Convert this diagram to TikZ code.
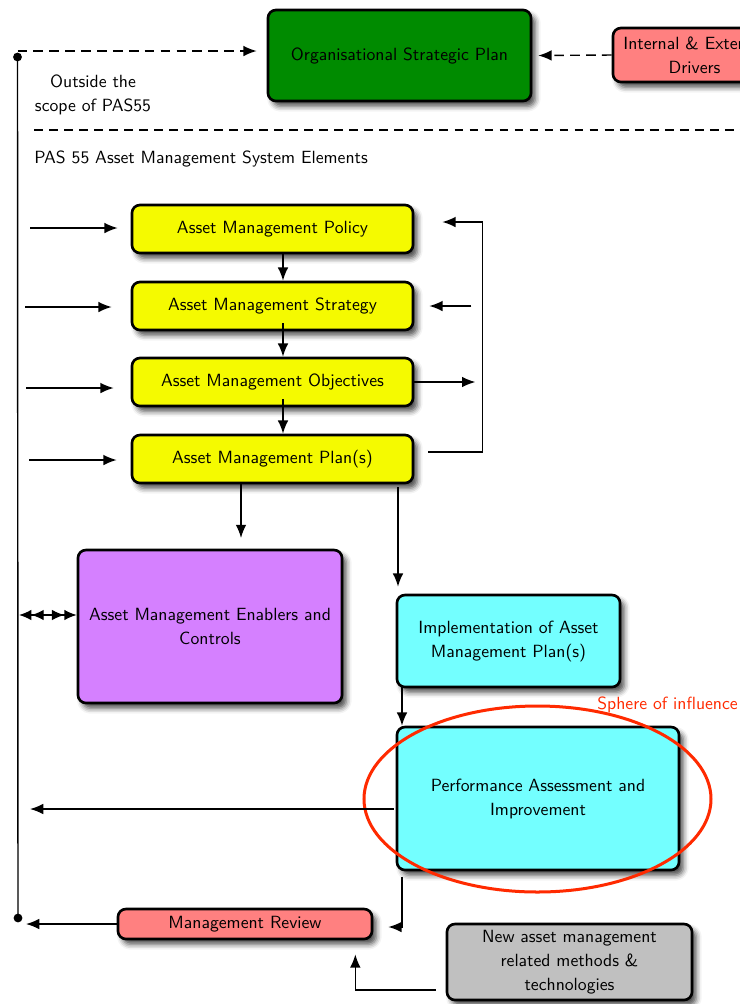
\documentclass[tikz,border=0pt]{standalone}
\usetikzlibrary{arrows.meta,calc,shadows.blur,shapes.geometric}
\definecolor{ospgreen}{RGB}{0,139,0}
\definecolor{amyellow}{RGB}{245,250,0}
\definecolor{enpurple}{RGB}{213,128,255}
\definecolor{impcyan}{RGB}{115,255,255}
\definecolor{revred}{RGB}{255,128,128}
\definecolor{newgrey}{RGB}{192,192,192}
\definecolor{sphred}{RGB}{255,42,0}
\begin{document}
\begin{tikzpicture}[x=0.566pt,y=-0.566pt,
  font=\sffamily\fontsize{10}{13.6}\selectfont,
  wh/.style 2 args={minimum width=#1*0.566pt, minimum height=#2*0.566pt},
  box/.style={draw=black, line width=1.5pt, rounded corners=4.5pt, align=center, inner sep=0pt,
    blur shadow={shadow xshift=2.5pt, shadow yshift=-3pt, shadow blur radius=3pt, shadow opacity=70}},
  tip/.style={-{Latex[length=7.5pt,width=6pt]}},
  conn/.style={line width=0.8pt, tip},
  link/.style={line width=0.8pt},
  dashconn/.style={line width=0.8pt, dash pattern=on 5.5pt off 3.5pt, tip},
]
\useasboundingbox (0,0) rectangle (740,1004);

% ---- boxes ----
\node[box, fill=ospgreen, wh={263}{91}] (osp) at (399.5,55.5) {Organisational Strategic Plan};
\node[box, fill=revred, wh={163}{54}] (drv) at (694.5,55) {Internal \& External\\Drivers};

\node[box, fill=amyellow, wh={281}{48}] (pol) at (272.5,229) {Asset Management Policy};
\node[box, fill=amyellow, wh={281}{48}] (str) at (272.5,306) {Asset Management Strategy};
\node[box, fill=amyellow, wh={281}{48}] (obj) at (272.5,382) {Asset Management Objectives};
\node[box, fill=amyellow, wh={281}{48}] (pla) at (272.5,459) {Asset Management Plan(s)};

\node[box, fill=enpurple, wh={264}{153}] (pur) at (210,626.5) {Asset Management Enablers and\\Controls};
\node[box, fill=impcyan, wh={223}{92}] (imp) at (508.5,641) {Implementation of Asset\\Management Plan(s)};
\node[box, fill=impcyan, wh={282}{143}] (per) at (538,798.5) {Performance Assessment and\\Improvement};
\node[box, fill=revred, wh={254}{30}] (mr) at (245,924) {Management Review};
\node[box, fill=newgrey, wh={245}{76}] (gry) at (569.5,962) {New asset management\\related methods \&\\technologies};

% ---- labels ----
\node[align=center, inner sep=0pt] (outside) at (93,95) {Outside the\\scope of PAS55};
\node[anchor=west, inner sep=0pt] (elements) at (34,159) {PAS 55 Asset Management System Elements};
\node[anchor=west, inner sep=0pt, text=sphred] (sphlabel) at (597,705) {Sphere of influence};

% ---- sphere of influence ----
\node[ellipse, draw=sphred, line width=1.7pt, minimum width=347*0.566pt, minimum height=186*0.566pt, inner sep=0pt] (sph) at (537.5,799) {};

% ---- scope separator ----
\coordinate (sepL) at (34,130);
\coordinate (sepR) at (740,130);
\draw[line width=0.8pt, dash pattern=on 5pt off 3.5pt] (sepL) -- (sepR);

% ---- feedback spine ----
\coordinate (dotT) at (17.5,57);
\coordinate (dotB) at (18,918);
\draw[link] (dotT) -- (dotB);
\fill (dotT) circle (2.5pt);
\fill (dotB) circle (2.5pt);
\draw[dashconn] ($(dotT)+(0,-6)$) -- ($(osp.west)+(-10,-4.5)$);
\draw[dashconn] (drv.west) -- ($(osp.east)+(6,0)$);

% ---- inputs from the left ----
\coordinate (inP) at (30,228);
\coordinate (inS) at (25,307);
\coordinate (inO) at (26,388);
\coordinate (inL) at (29,460);
\draw[conn] (inP) -- (inP -| {$(pol.west)+(-13,0)$});
\draw[conn] (inS) -- (inS -| {$(str.west)+(-19,0)$});
\draw[conn] (inO) -- (inO -| {$(obj.west)+(-17,0)$});
\draw[conn] (inL) -- (inL -| {$(pla.west)+(-14,0)$});

% ---- yellow cascade ----
\draw[conn] ($(pol.south)+(10.5,0)$) -- ($(str.north)+(10.5,0)$);
\draw[conn] ($(str.south)+(10.5,-8)$) -- ($(obj.north)+(10.5,0)$);
\draw[conn] ($(obj.south)+(10.5,-8)$) -- ($(pla.north)+(10.5,0)$);

% ---- right-hand loop ----
\draw[conn] ($(pla.east)+(14,-7)$) -| ($(pol.east)+(68,-7)$) -- ($(pol.east)+(28,-7)$);
\draw[conn] ($(str.east)+(57,0)$) -- ($(str.east)+(15,0)$);
\draw[conn] (obj.east) -- ($(obj.east)+(61,0)$);

% ---- plans downwards ----
\coordinate (plaOut) at (241,538);
\draw[conn] ($(pla.south)+(-31.5,0)$) -- (plaOut);
\coordinate (pl2) at (398,487);
\draw[conn] (pl2) -- ($(pl2 |- imp.north)+(0,-7)$);
\coordinate (enL) at (19,615);
\draw[line width=0.8pt, {Latex[length=7pt,width=6pt]Latex[length=7pt,width=6pt]}-{Latex[length=7pt,width=6pt]Latex[length=7pt,width=6pt]}] (enL) -- (enL -| pur.west);

% ---- implementation, assessment and review ----
\coordinate (im2) at (402,687);
\draw[conn] (im2) -- (im2 |- per.north);
\coordinate (perOut) at (30,809);
\draw[conn] (perOut -| {$(per.west)+(-2,0)$}) -- (perOut);
\coordinate (pe2) at (402,877);
\draw[conn] (pe2) |- ($(mr.east)+(15,3)$);
\coordinate (mrOut) at (26,924);
\draw[conn] (mr.west) -- (mrOut);
\draw[conn] ($(gry.west)+(-10,28)$) -| ($(mr.south east)+(-18,14)$);

\end{tikzpicture}
\end{document}
